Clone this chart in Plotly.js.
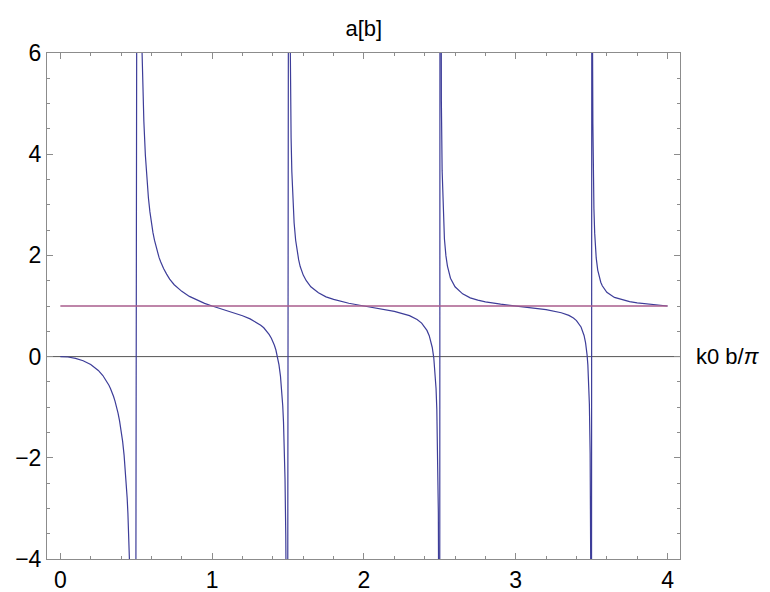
<!DOCTYPE html>
<html>
<head>
<meta charset="utf-8">
<script src="https://cdn.plot.ly/plotly-3.0.1.min.js"></script>
<style>html,body{margin:0;padding:0;background:#fff;}#chart{width:770px;height:592px;}</style>
</head>
<body>
<div id="chart"></div>
<script>
// a[b]; branches are joined across the poles as in the original plot
const xA = [
  0, 0.05, 0.1, 0.15, 0.2, 0.25, 0.28, 0.3, 0.32, 0.33, 0.34, 0.35, 0.36, 0.37, 0.38, 0.39, 0.4, 0.41, 0.42, 0.43, 0.44, 0.445, 0.45, 0.455, 0.46, 0.47, 0.49,
  0.51, 0.52, 0.53, 0.535, 0.54, 0.55, 0.56, 0.57, 0.58, 0.59, 0.6, 0.61, 0.62, 0.63, 0.64, 0.65, 0.66, 0.67, 0.68, 0.7, 0.72, 0.75, 0.8, 0.85, 0.9, 0.95, 1.0, 1.05, 1.1, 1.15, 1.2, 1.25, 1.3, 1.32, 1.34, 1.35, 1.36, 1.375, 1.39, 1.4, 1.41, 1.42, 1.43, 1.44, 1.45, 1.46, 1.465, 1.47, 1.475, 1.48, 1.485, 1.49, 1.495,
  1.505, 1.51, 1.515, 1.52, 1.525, 1.53, 1.54, 1.55, 1.56, 1.57, 1.58, 1.6, 1.62, 1.65, 1.7, 1.75, 1.8, 1.9, 2.0, 2.1, 2.2, 2.3, 2.35, 2.38, 2.4, 2.415, 2.43, 2.44, 2.45, 2.46, 2.47, 2.475, 2.48, 2.485, 2.49, 2.495, 2.498,
  2.502, 2.505, 2.51, 2.515, 2.52, 2.525, 2.53, 2.54, 2.55, 2.57, 2.6, 2.65, 2.7, 2.75, 2.8, 2.9, 3.0, 3.1, 3.2, 3.3, 3.35, 3.38, 3.4, 3.43, 3.44, 3.45, 3.46, 3.465, 3.47, 3.475, 3.48, 3.485, 3.49, 3.495, 3.498,
  3.502, 3.505, 3.508, 3.51, 3.515, 3.52, 3.525, 3.53, 3.54, 3.55, 3.56, 3.57, 3.58, 3.6, 3.65, 3.7, 3.75, 3.8, 3.9, 4.0
];
const aB = [
  0, -0.008, -0.034, -0.081, -0.156, -0.273, -0.374, -0.46, -0.567, -0.63, -0.70, -0.785, -0.88, -0.99, -1.116, -1.27, -1.449, -1.67, -1.952, -2.31, -2.791, -3.10, -3.466, -3.92, -4.478, -6.17, -19.7,
  20.86, 10.73, 7.35, 6.39, 5.67, 4.65, 3.98, 3.5, 3.14, 2.86, 2.63, 2.45, 2.3, 2.17, 2.06, 1.96, 1.88, 1.8, 1.74, 1.63, 1.53, 1.42, 1.29, 1.19, 1.115, 1.053, 1.0, 0.952, 0.906, 0.859, 0.807, 0.745, 0.663, 0.62, 0.57, 0.537, 0.50, 0.44, 0.364, 0.3, 0.223, 0.13, 0.004, -0.158, -0.386, -0.73, -0.97, -1.29, -1.74, -2.42, -3.55, -5.8, -12.55,
  14.46, 7.71, 5.46, 4.33, 3.65, 3.2, 2.64, 2.3, 2.07, 1.91, 1.78, 1.61, 1.50, 1.38, 1.26, 1.18, 1.13, 1.054, 1.0, 0.951, 0.895, 0.81, 0.734, 0.662, 0.592, 0.518, 0.414, 0.316, 0.18, -0.024, -0.363, -0.634, -1.04, -1.72, -3.07, -7.12, -19.3,
  21.25, 9.09, 5.04, 3.68, 3.01, 2.60, 2.33, 1.99, 1.79, 1.55, 1.38, 1.24, 1.16, 1.116, 1.083, 1.036, 1.0, 0.967, 0.928, 0.867, 0.814, 0.762, 0.712, 0.585, 0.515, 0.417, 0.272, 0.168, 0.03, -0.164, -0.454, -0.94, -1.9, -4.8, -13.48,
  15.47, 6.78, 4.61, 3.89, 2.92, 2.44, 2.15, 1.95, 1.71, 1.57, 1.47, 1.40, 1.35, 1.27, 1.17, 1.12, 1.085, 1.061, 1.027, 1.0
];
const xLine = [0, 4];
const yLine = [1, 1];
const xTicks = [0, 1, 2, 3, 4];
const yTicks = [-4, -2, 0, 2, 4, 6];
const titleText = 'a[b]';
const xLabel = 'k0 b/<i>π</i>';

const font = 'Liberation Sans, Arial, sans-serif';
const axisCommon = {
  showgrid: false, zeroline: false,
  showline: true, linecolor: '#8c8c8c', linewidth: 1, mirror: 'allticks',
  ticks: 'inside', ticklen: 6, tickwidth: 1, tickcolor: '#8c8c8c',
  tickfont: {family: font, size: 23, color: '#000'}
};

const data = [
  {x: xA, y: aB, mode: 'lines', line: {color: '#3d3d99', width: 1.2}, hoverinfo: 'skip'},
  {x: xLine, y: yLine, mode: 'lines', line: {color: '#a85c8c', width: 1.3}, hoverinfo: 'skip'}
];

const layout = {
  width: 770, height: 592,
  margin: {l: 47, r: 90, t: 53, b: 33},
  paper_bgcolor: '#fff', plot_bgcolor: '#fff',
  showlegend: false,
  title: {text: titleText, font: {family: font, size: 22, color: '#000'}, x: 0.4725, xanchor: 'center', y: 0.953, yanchor: 'middle'},
  xaxis: Object.assign({}, axisCommon, {
    range: [-0.088, 4.082], tickvals: xTicks, ticktext: xTicks.map(String),
    minor: {dtick: 0.2, tick0: 0, ticks: 'inside', ticklen: 3, tickcolor: '#8c8c8c', tickwidth: 1}
  }),
  yaxis: Object.assign({}, axisCommon, {
    range: [-4, 6], tickvals: yTicks, ticktext: yTicks.map(v => v < 0 ? '\u2212' + Math.abs(v) : String(v)),
    minor: {dtick: 0.5, tick0: 0, ticks: 'inside', ticklen: 3, tickcolor: '#8c8c8c', tickwidth: 1}
  }),
  shapes: [
    {type: 'line', xref: 'paper', x0: 0, x1: 1, yref: 'y', y0: 0, y1: 0, line: {color: '#555', width: 1}, layer: 'below'}
  ],
  annotations: [
    {text: xLabel, xref: 'paper', yref: 'y', x: 1, y: 0, xanchor: 'left', yanchor: 'middle', xshift: 14, showarrow: false,
     font: {family: font, size: 22, color: '#000'}}
  ]
};

Plotly.newPlot('chart', data, layout, {staticPlot: true, displayModeBar: false});
</script>
</body>
</html>
